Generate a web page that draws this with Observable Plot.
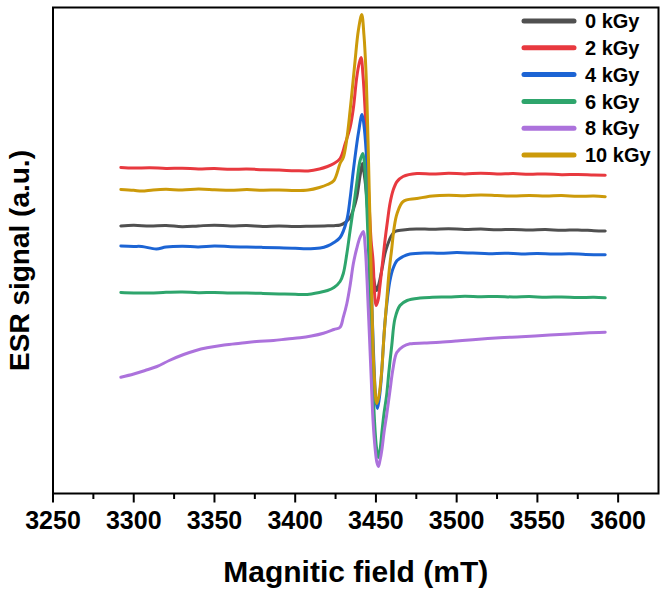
<!DOCTYPE html>
<html>
<head>
<meta charset="utf-8">
<script src="https://cdn.jsdelivr.net/npm/d3@7"></script>
<script src="https://cdn.jsdelivr.net/npm/@observablehq/plot@0.6"></script>
<style>
  html, body { margin: 0; padding: 0; background: #fff; }
  #wrap { position: relative; width: 662px; height: 593px; }
  #legend { position: absolute; left: 0; top: 0; pointer-events: none; }
  #legend text { font-family: "Liberation Sans", Arial, sans-serif; font-weight: bold; font-size: 20px; fill: #000; }
</style>
</head>
<body>
<div id="wrap"></div>
<script>
// ESR spectra (derivative signal, arbitrary units) vs magnetic field for each irradiation dose
const doses = ["0 kGy", "2 kGy", "4 kGy", "6 kGy", "8 kGy", "10 kGy"];
const colors = ["#505050", "#e8393f", "#1c64d4", "#2ea56c", "#ac72dc", "#cc9a0a"];

const xTicks = [3250, 3300, 3350, 3400, 3450, 3500, 3550, 3600];
const xMinorTicks = [3275, 3325, 3375, 3425, 3475, 3525, 3575];
const xTitle = "Magnitic field (mT)";
const yTitle = "ESR signal (a.u.)";

// [field (mT), signal (a.u.)]
const dose0 = [
  [3292, 267.5], [3300, 268.2], [3310, 267.4], [3320, 268], [3330, 266.8], [3340, 267.6],
  [3350, 268.3], [3360, 267.5], [3370, 267.9], [3380, 267.1], [3390, 267.6], [3400, 266.9],
  [3410, 267.3], [3418, 267.6], [3424, 267.8], [3428, 268.5], [3431, 271], [3434, 276],
  [3436, 284], [3438.1, 296], [3440.2, 318], [3441.6, 330], [3442.6, 321], [3443.9, 303],
  [3445.1, 278], [3446.3, 253], [3447.6, 231], [3448.8, 213], [3450.4, 203], [3451.9, 210],
  [3453.8, 225], [3455.6, 240], [3457.5, 250], [3459.3, 257], [3461.8, 262], [3466.8, 263.5],
  [3475, 264.6], [3485, 264.2], [3495, 264.8], [3505, 264], [3515, 264.5], [3525, 263.7],
  [3535, 264.1], [3545, 263.5], [3555, 263.9], [3565, 263.2], [3575, 263.6], [3585, 262.8],
  [3592, 262.5]
];
const dose2 = [
  [3292, 326], [3300, 325.4], [3310, 325.8], [3320, 325], [3330, 325.3], [3340, 324.6],
  [3350, 325], [3360, 324.2], [3370, 324.5], [3380, 323.8], [3390, 323.4], [3400, 322.8],
  [3408, 322.6], [3415, 324.5], [3420, 327], [3424, 330], [3427.8, 335], [3431, 350],
  [3434, 366], [3436, 385], [3438.1, 416], [3439.6, 430], [3440.8, 436], [3442.0, 418],
  [3443.3, 383], [3444.5, 338], [3445.7, 293], [3447.0, 253], [3448.2, 233], [3449.5, 193],
  [3450.2, 188], [3451.3, 193], [3452.5, 208], [3454.1, 231], [3455.6, 253], [3457.2, 273],
  [3458.7, 290], [3460.6, 303], [3463.1, 312], [3466.8, 317], [3475.4, 320], [3485, 319.4],
  [3495, 320.2], [3505, 319.6], [3515, 320.3], [3525, 319.5], [3535, 319.9], [3545, 319.2],
  [3555, 319.6], [3565, 318.8], [3575, 319.1], [3585, 318.4], [3592, 318.2]
];
const dose4 = [
  [3292, 247.5], [3300, 247.1], [3305, 247], [3314, 244.5], [3320, 246.4], [3330, 247.2],
  [3340, 246.6], [3350, 247.5], [3360, 246.8], [3370, 246.5], [3380, 246.1], [3390, 245.8],
  [3400, 245.3], [3407, 244.7], [3415.5, 245.5], [3420, 247.5], [3424, 251], [3427.8, 256],
  [3431.9, 273], [3434, 295], [3436, 323], [3439.1, 360], [3441.4, 379], [3442.6, 368],
  [3443.9, 343], [3445.1, 298], [3446.3, 243], [3447.6, 183], [3448.8, 128], [3449.9, 95],
  [3450.9, 85], [3451.9, 93], [3453.2, 113], [3454.4, 143], [3455.6, 171], [3457.2, 196],
  [3458.7, 213], [3460.6, 225], [3463.1, 233], [3466.8, 237], [3471.1, 239.5], [3480, 240.6],
  [3490, 240.2], [3500, 240.9], [3510, 240.4], [3520, 239.8], [3530, 240.3], [3540, 239.6],
  [3550, 240], [3560, 239.4], [3570, 239.7], [3580, 239.1], [3592, 238.8]
];
const dose6 = [
  [3292, 201], [3300, 200.6], [3310, 200.4], [3320, 201.2], [3330, 201.5], [3340, 200.8],
  [3350, 201], [3360, 200.4], [3370, 200.5], [3380, 200.1], [3390, 199.5], [3400, 199.2],
  [3405, 199], [3410, 199.6], [3415, 201], [3420, 203], [3424, 206], [3427.8, 212],
  [3429.8, 220], [3432, 240], [3434, 263], [3436, 285], [3438.1, 310], [3440.2, 333],
  [3441.9, 340], [3443.0, 328], [3444.2, 293], [3445.4, 243], [3446.7, 183], [3447.9, 123],
  [3449.1, 73], [3450.4, 45], [3451.5, 36], [3452.5, 43], [3453.8, 63], [3455.0, 80],
  [3456.6, 98], [3458.1, 123], [3459.8, 148], [3461.8, 175], [3464.9, 188], [3469.3, 193],
  [3477.3, 195.5], [3485, 196.2], [3495, 196.6], [3505, 197.2], [3515, 196.8], [3525, 197.1],
  [3535, 196.5], [3545, 196.9], [3555, 196.3], [3565, 196.6], [3575, 196], [3585, 196.2],
  [3592, 195.7]
];
const dose8 = [
  [3292, 116.3], [3300, 119.5], [3307, 123], [3314.4, 127], [3322, 133], [3330.9, 139],
  [3338, 142.8], [3345.4, 145.7], [3356, 148.5], [3366, 150.3], [3376, 152], [3386.5, 153],
  [3395, 154.5], [3403, 155.7], [3410, 157.5], [3417.5, 160.3], [3424, 164], [3427.8, 166.3],
  [3429.8, 176.3], [3432, 190], [3434, 208], [3436, 229.7], [3438.1, 245], [3440.2, 256.3],
  [3442.2, 262], [3443.3, 248], [3444.5, 213], [3445.7, 168], [3447.0, 118], [3448.2, 73],
  [3449.5, 45], [3450.6, 31], [3451.5, 27], [3452.5, 33], [3453.8, 45], [3455.0, 61],
  [3456.6, 78], [3458.7, 103], [3460.6, 125], [3462.9, 141], [3466.8, 147], [3471.1, 149.7],
  [3480, 150.5], [3489.6, 151.3], [3500, 152.5], [3510, 153.8], [3526.7, 155.7], [3540, 156.8],
  [3557.6, 158.5], [3570, 159.5], [3580, 160.6], [3592, 161.3]
];
const dose10 = [
  [3292, 304], [3300, 303.2], [3305, 302.4], [3312, 303.6], [3320, 304.2], [3330, 303.5],
  [3340, 304.4], [3350, 303.8], [3360, 303.2], [3370, 303.9], [3380, 303.3], [3390, 303.6],
  [3400, 302.9], [3408, 303.4], [3415, 306], [3420, 309], [3424, 313], [3427.8, 330],
  [3429.8, 336], [3432, 355], [3434, 383], [3436, 415], [3437.1, 433], [3439.1, 463],
  [3441.2, 479], [3442.6, 458], [3443.8, 423], [3445.1, 353], [3446.3, 273], [3447.6, 183],
  [3448.8, 123], [3450.5, 90], [3451.9, 98], [3453.6, 123], [3455.0, 158], [3456.7, 193],
  [3458.1, 221], [3459.8, 245], [3461.2, 265], [3463.1, 280], [3466.9, 292], [3475.2, 295],
  [3485, 297.6], [3495, 298.3], [3505, 297.8], [3515, 298.6], [3525, 298], [3535, 297.4],
  [3545, 298.1], [3555, 297.5], [3565, 297.9], [3575, 297.2], [3585, 297.5], [3592, 296.8]
];

const spectra = [dose0, dose2, dose4, dose6, dose8, dose10];

// long-format table for the line marks
const rows = spectra.flatMap((pts, i) =>
  pts.map(([field, signal]) => ({dose: doses[i], field, signal}))
);

const font = "'Liberation Sans', Arial, Helvetica, sans-serif";

const chart = Plot.plot({
  width: 662,
  height: 593,
  marginLeft: 52.5,
  marginRight: 4,
  marginTop: 7,
  marginBottom: 100,
  style: {fontFamily: font, fontWeight: "bold", background: "#fff", color: "#000", overflow: "visible"},
  x: {domain: [3250, 3625], label: null},
  y: {domain: [0, 486], axis: null},
  color: {domain: doses, range: colors},
  marks: [
    Plot.axisX({ticks: xMinorTicks, tickSize: 6, tickFormat: () => "", label: null, strokeWidth: 2}),
    Plot.axisX({ticks: xTicks, tickSize: 9.5, tickPadding: 8, tickFormat: d => String(d),
                fontSize: 25, label: null, strokeWidth: 2}),
    Plot.line(rows, {x: "field", y: "signal", z: "dose", stroke: "dose",
                     strokeWidth: 3, curve: "catmull-rom", strokeLinejoin: "round"}),
    Plot.frame({stroke: "#000", strokeWidth: 2}),
    Plot.text([xTitle], {frameAnchor: "bottom", dy: 88, lineAnchor: "bottom",
                         fontSize: 30, fontWeight: "bold", fill: "#000"}),
    Plot.text([yTitle], {frameAnchor: "left", dx: -33, dy: 10, rotate: -90, textAnchor: "middle",
                         fontSize: 28, fontWeight: "bold", fill: "#000"})
  ]
});

const wrap = document.getElementById("wrap");
wrap.appendChild(chart);

// legend: line swatch + label for each dose, stacked in the top-right corner
const leg = d3.select(wrap).append("svg")
  .attr("id", "legend")
  .attr("width", 662)
  .attr("height", 593);
const rowY = i => 21 + i * 26.8;
const g = leg.selectAll("g").data(doses).join("g")
  .attr("transform", (d, i) => `translate(0,${rowY(i)})`);
g.append("line")
  .attr("x1", 524).attr("x2", 574).attr("y1", 0).attr("y2", 0)
  .attr("stroke", (d, i) => colors[i])
  .attr("stroke-width", 5)
  .attr("stroke-linecap", "round");
g.append("text")
  .attr("x", 585).attr("y", 0).attr("dy", "0.36em")
  .text(d => d);
</script>
</body>
</html>
